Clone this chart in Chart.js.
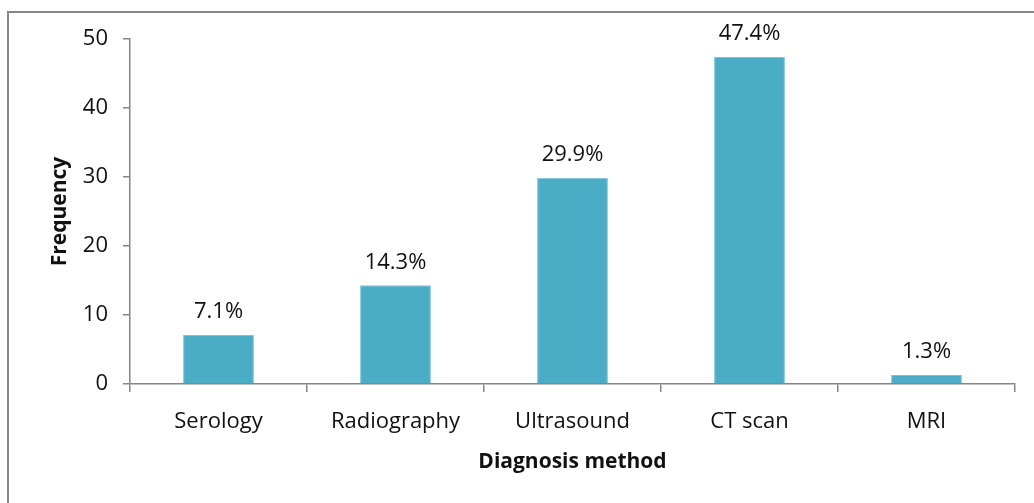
<!DOCTYPE html>
<html>
<head>
<meta charset="utf-8">
<script src="https://cdn.jsdelivr.net/npm/chart.js@4/dist/chart.umd.min.js"></script>
<style>
  html, body { margin: 0; padding: 0; background: #fff; }
  #wrap { width: 1034px; height: 503px; position: relative; }
</style>
</head>
<body>
<div id="wrap"><canvas id="chart"></canvas></div>
<script>
// 차트 데이터
const categories = ["Serology", "Radiography", "Ultrasound", "CT scan", "MRI"];
const frequency = [7.1, 14.3, 29.9, 47.4, 1.3];
const percentLabels = ["7.1%", "14.3%", "29.9%", "47.4%", "1.3%"];
const yTicks = [0, 10, 20, 30, 40, 50];

const axisGray = "#868686";
const fontFamily = "'Open Sans', 'Liberation Sans', sans-serif";

// 바깥 테두리
const framePlugin = {
    id: "frame",
    beforeDraw(chart) {
        const c = chart.ctx;
        c.save();
        c.fillStyle = "#fff";
        c.fillRect(0, 0, chart.width, chart.height);
        c.strokeStyle = "#878787";
        c.lineWidth = 2;
        c.strokeRect(8, 12, 1200, 700);
        c.restore();
    },
};

// 막대 위 퍼센트 라벨
const barLabels = {
    id: "barLabels",
    afterDatasetsDraw(chart) {
        const c = chart.ctx;
        const meta = chart.getDatasetMeta(0);
        c.save();
        c.font = "22px " + fontFamily;
        c.fillStyle = "#111";
        c.textAlign = "center";
        c.textBaseline = "bottom";
        meta.data.forEach((bar, i) => {
            c.fillText(percentLabels[i], bar.x, bar.y - 12);
        });
        c.restore();
    },
};

const ctx = document.getElementById("chart").getContext("2d");
const chart = new Chart(ctx, {
    type: "bar",
    data: {
        labels: categories,
        datasets: [
            {
                label: "Frequency",
                data: frequency,
                backgroundColor: "#4BACC6",
                borderColor: "#7cc3d6",
                borderWidth: 1,
                categoryPercentage: 1,
                barPercentage: 0.4,
            },
        ],
    },
    options: {
        responsive: true,
        maintainAspectRatio: false,
        animation: false,
        layout: { padding: { top: 39, right: 19, bottom: 0, left: 0 } },
        plugins: {
            legend: { display: false },
            tooltip: { enabled: false },
        },
        scales: {
            x: {
                afterFit: (s) => { s.height = 119; },
                grid: {
                    display: true,
                    drawOnChartArea: false,
                    drawTicks: true,
                    tickLength: 8,
                    color: axisGray,
                    lineWidth: 1.5,
                },
                border: { display: true, color: axisGray, width: 1.5 },
                ticks: {
                    color: "#111",
                    padding: 17,
                    font: { family: fontFamily, size: 22 },
                },
                title: {
                    display: true,
                    text: "Diagnosis method",
                    color: "#111",
                    padding: { top: 0, bottom: 28 },
                    font: { family: fontFamily, size: 21, weight: "bold" },
                },
            },
            y: {
                min: 0,
                max: 50,
                afterFit: (s) => { s.width = 130; },
                afterBuildTicks: (s) => { s.ticks = yTicks.map((v) => ({ value: v })); },
                grid: {
                    display: true,
                    drawOnChartArea: false,
                    drawTicks: true,
                    tickLength: 7,
                    color: axisGray,
                    lineWidth: 1.5,
                },
                border: { display: true, color: axisGray, width: 1.5 },
                ticks: {
                    color: "#111",
                    padding: 15,
                    font: { family: fontFamily, size: 22 },
                },
                title: {
                    display: true,
                    text: "Frequency",
                    color: "#111",
                    padding: { top: 47, bottom: 0 },
                    font: { family: fontFamily, size: 21, weight: "bold" },
                },
            },
        },
    },
    plugins: [framePlugin, barLabels],
});
</script>
</body>
</html>
